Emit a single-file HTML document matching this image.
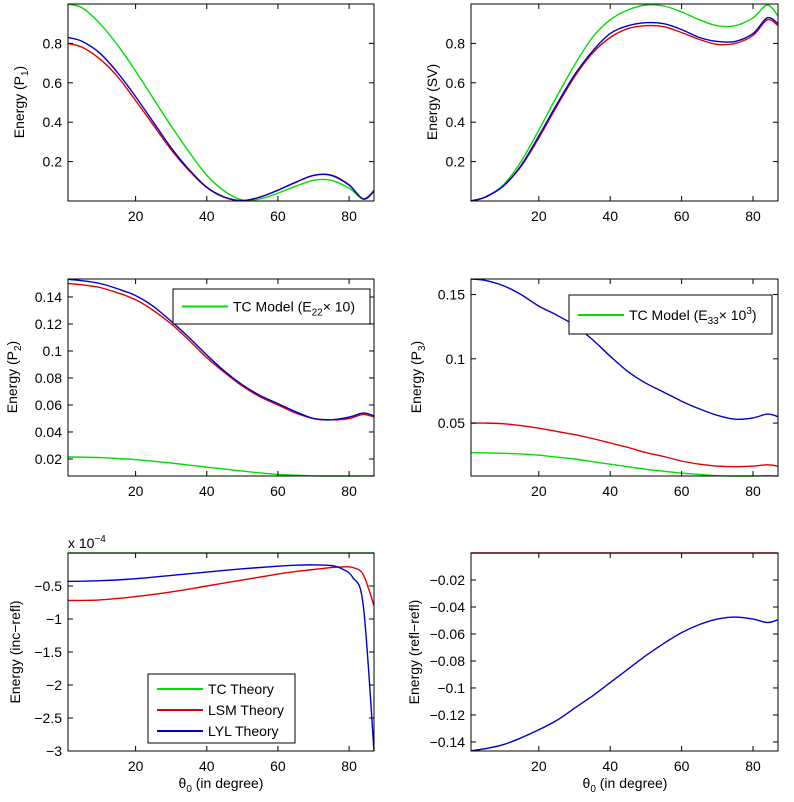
<!DOCTYPE html>
<html><head><meta charset="utf-8"><style>
body{margin:0;background:#fff;}
svg{display:block;font-family:"Liberation Sans",Arial,sans-serif;}
</style></head><body>
<svg id="fig" width="794" height="802" viewBox="0 0 794 802"></svg>
<script>
// ---- data ----
const X = [1,5,10,15,20,25,30,35,40,45,50,55,60,65,70,75,80,84,87];
const p1Green = [1.0,0.98,0.90,0.79,0.66,0.52,0.38,0.25,0.13,0.05,0.005,0.01,0.04,0.075,0.105,0.105,0.065,0.01,0.055];
const p1Blue  = [0.83,0.81,0.75,0.65,0.53,0.40,0.27,0.16,0.07,0.02,0.002,0.02,0.055,0.095,0.13,0.13,0.08,0.01,0.05];
const p1Red   = [0.80,0.78,0.72,0.63,0.51,0.385,0.26,0.155,0.068,0.018,0.002,0.02,0.055,0.095,0.13,0.132,0.082,0.01,0.05];
const svGreen = [0,0.02,0.08,0.2,0.36,0.53,0.69,0.83,0.92,0.97,0.995,0.99,0.96,0.92,0.89,0.89,0.93,0.995,0.94];
const svBlue  = [0,0.02,0.075,0.18,0.33,0.49,0.64,0.76,0.85,0.89,0.905,0.90,0.87,0.83,0.81,0.81,0.85,0.93,0.90];
const svRed   = [0,0.02,0.075,0.175,0.32,0.48,0.63,0.75,0.83,0.875,0.89,0.885,0.855,0.82,0.795,0.80,0.84,0.92,0.89];
const p2Blue  = [0.153,0.152,0.150,0.146,0.141,0.133,0.122,0.110,0.097,0.085,0.075,0.067,0.061,0.055,0.050,0.049,0.051,0.054,0.052];
const p2Red   = [0.150,0.149,0.147,0.143,0.138,0.130,0.120,0.108,0.095,0.084,0.074,0.066,0.060,0.054,0.050,0.049,0.050,0.053,0.051];
const p2Green = [0.0215,0.0213,0.021,0.0203,0.0195,0.0183,0.017,0.0155,0.014,0.0125,0.011,0.0097,0.0085,0.008,0.0075,0.0074,0.0074,0.0075,0.0074];
const p3Blue  = [0.162,0.161,0.157,0.150,0.141,0.134,0.126,0.115,0.102,0.090,0.081,0.074,0.067,0.061,0.056,0.053,0.054,0.057,0.055];
const p3Red   = [0.050,0.050,0.0495,0.048,0.046,0.0435,0.041,0.038,0.0345,0.031,0.027,0.024,0.0205,0.018,0.0165,0.016,0.0165,0.0175,0.0165];
const p3Green = [0.027,0.0268,0.0265,0.026,0.025,0.0235,0.022,0.020,0.018,0.016,0.014,0.0125,0.011,0.010,0.009,0.0088,0.0088,0.009,0.0088];
const XI = [1,10,20,30,40,50,60,65,70,75,78,81,84,87];
const incBlue  = [-0.43,-0.42,-0.39,-0.34,-0.29,-0.24,-0.20,-0.185,-0.18,-0.19,-0.24,-0.37,-0.8,-3.0];
const incRed   = [-0.72,-0.71,-0.66,-0.59,-0.50,-0.41,-0.32,-0.28,-0.25,-0.22,-0.21,-0.22,-0.33,-0.8];
const incGreen = [0,0,0,0,0,0,0,0,0,0,0,0,0,0];
const reflBlue = [-0.1465,-0.145,-0.142,-0.137,-0.131,-0.124,-0.115,-0.106,-0.096,-0.086,-0.076,-0.067,-0.059,-0.053,-0.049,-0.0475,-0.049,-0.0515,-0.0495];
const reflRed  = [0,0,0,0,0,0,0,0,0,0,0,0,0,0,0,0,0,0,0];
const xTicks = [20,40,60,80];
const yT1 = [0.2,0.4,0.6,0.8];
const yT2 = [0.02,0.04,0.06,0.08,0.1,0.12,0.14];
const yT2L = ["0.02","0.04","0.06","0.08","0.1","0.12","0.14"];
const yT3 = [0.05,0.1,0.15];
const yT3L = ["0.05","0.1","0.15"];
const yT5 = [-3,-2.5,-2,-1.5,-1,-0.5];
const yT5L = ["\u22123","\u22122.5","\u22122","\u22121.5","\u22121","\u22120.5"];
const yT6 = [-0.14,-0.12,-0.1,-0.08,-0.06,-0.04,-0.02];
const yT6L = ["\u22120.14","\u22120.12","\u22120.1","\u22120.08","\u22120.06","\u22120.04","\u22120.02"];

const NS="http://www.w3.org/2000/svg";
const fig=document.getElementById('fig');
function mk(tag,attrs,parent){const e=document.createElementNS(NS,tag);for(const k in attrs)e.setAttribute(k,attrs[k]);(parent||fig).appendChild(e);return e;}
const G="#00dd00",R="#e00000",B="#0000cc";
const FS=14;

function smoothPath(p){
  let d='M'+p[0][0].toFixed(1)+','+p[0][1].toFixed(1);
  for(let i=0;i<p.length-1;i++){
    const p0=p[Math.max(0,i-1)],p1=p[i],p2=p[i+1],p3=p[Math.min(p.length-1,i+2)];
    const k=1/6;
    const c1=[p1[0]+(p2[0]-p0[0])*k,p1[1]+(p2[1]-p0[1])*k];
    const c2=[p2[0]-(p3[0]-p1[0])*k,p2[1]-(p3[1]-p1[1])*k];
    d+=' C'+c1[0].toFixed(1)+','+c1[1].toFixed(1)+' '+c2[0].toFixed(1)+','+c2[1].toFixed(1)+' '+p2[0].toFixed(1)+','+p2[1].toFixed(1);
  }
  return d;
}

function panel(name,L,T,W,H,xmin,xmax,ymin,ymax,yt,ytl,series){
  const g=mk('g',{});
  
  
  const sx=v=>L+(v-xmin)/(xmax-xmin)*W;
  const sy=v=>T+H-(v-ymin)/(ymax-ymin)*H;
  const cid='c'+name;
  const cp=mk('clipPath',{id:cid},g);mk('rect',{x:L,y:T-1,width:W,height:H+2},cp);
  series.forEach(s=>{
    const pts=s.xs.map((x,i)=>[sx(x),sy(s.ys[i])]);
    const pl=mk('path',{d:smoothPath(pts),fill:'none',stroke:s.c,'stroke-width':1.4,'clip-path':'url(#'+cid+')','stroke-linejoin':'round'},g);
    
    
  });
  const box=mk('rect',{x:L,y:T,width:W,height:H,fill:'none',stroke:'#000','stroke-width':1},g);
  
  
  xTicks.forEach(t=>{
    const x=sx(t);
    mk('line',{x1:x,y1:T+H,x2:x,y2:T+H-5,stroke:'#000'},g);
    mk('line',{x1:x,y1:T,x2:x,y2:T+5,stroke:'#000'},g);
    const tx=mk('text',{x:x,y:T+H+20,'font-size':FS,'text-anchor':'middle'},g);
    tx.textContent=t;
    
    
  });
  yt.forEach((t,i)=>{
    const y=sy(t);
    mk('line',{x1:L,y1:y,x2:L+5,y2:y,stroke:'#000'},g);
    mk('line',{x1:L+W,y1:y,x2:L+W-5,y2:y,stroke:'#000'},g);
    const tx=mk('text',{x:L-6,y:y+5,'font-size':FS,'text-anchor':'end'},g);
    tx.textContent=ytl[i];
    
    
  });
  return g;
}
function ylabel(x,y,html,name){
  const t=mk('text',{x:0,y:0,'font-size':FS,'text-anchor':'middle',transform:'translate('+x+','+y+') rotate(-90)'});
  t.innerHTML=html;
  
  
}
function xlabel(x,y){
  const t=mk('text',{x:x,y:y,'font-size':FS,'text-anchor':'middle'});
  t.innerHTML='\u03B8<tspan dy="4" font-size="10">0</tspan><tspan dy="-4"> (in degree)</tspan>';
  
  
}
function legend(x,y,w,h,items,name){
  const g=mk('g',{});
  
  
  mk('rect',{x:x,y:y,width:w,height:h,fill:'#fff',stroke:'#000'},g);
  items.forEach(it=>{
    mk('line',{x1:x+9,y1:it.y,x2:x+55,y2:it.y,stroke:it.c,'stroke-width':2},g);
    const t=mk('text',{x:x+60,y:it.y+5,'font-size':FS},g);
    t.innerHTML=it.t;
    
    
  });
}
const LL=68,LW=306,RL=471,RW=307,H=197;
panel('plot-p1',LL,4,LW,H,1,87,0,1,yT1,["0.2","0.4","0.6","0.8"],[
  {xs:X,ys:p1Green,c:G,n:'tc-series'},{xs:X,ys:p1Red,c:R,n:'lsm-series'},{xs:X,ys:p1Blue,c:B,n:'lyl-series'}]);
panel('plot-sv',RL,4,RW,H,1,87,0,1,yT1,["0.2","0.4","0.6","0.8"],[
  {xs:X,ys:svGreen,c:G,n:'tc-series'},{xs:X,ys:svRed,c:R,n:'lsm-series'},{xs:X,ys:svBlue,c:B,n:'lyl-series'}]);
panel('plot-p2',LL,279,LW,H,1,87,0.0074,0.1533,yT2,yT2L,[
  {xs:X,ys:p2Green,c:G,n:'tc-series'},{xs:X,ys:p2Red,c:R,n:'lsm-series'},{xs:X,ys:p2Blue,c:B,n:'lyl-series'}]);
panel('plot-p3',RL,279,RW,H,1,87,0.0088,0.1621,yT3,yT3L,[
  {xs:X,ys:p3Green,c:G,n:'tc-series'},{xs:X,ys:p3Red,c:R,n:'lsm-series'},{xs:X,ys:p3Blue,c:B,n:'lyl-series'}]);
panel('plot-inc-refl',LL,553,LW,198,1,87,-3,0,yT5,yT5L,[
  {xs:XI,ys:incGreen,c:G,n:'tc-series'},{xs:XI,ys:incRed,c:R,n:'lsm-series'},{xs:XI,ys:incBlue,c:B,n:'lyl-series'}]);
panel('plot-refl-refl',RL,553,RW,198,1,87,-0.1467,0,yT6,yT6L,[
  {xs:X,ys:reflRed,c:R,n:'lsm-series'},{xs:X,ys:reflBlue,c:B,n:'lyl-series'}]);

ylabel(24,102,'Energy (P<tspan dy="4" font-size="10">1</tspan><tspan dy="-4">)</tspan>','y-axis-title-p1');
ylabel(437,102,'Energy (SV)','y-axis-title-sv');
ylabel(17,377,'Energy (P<tspan dy="4" font-size="10">2</tspan><tspan dy="-4">)</tspan>','y-axis-title-p2');
ylabel(421,377,'Energy (P<tspan dy="4" font-size="10">3</tspan><tspan dy="-4">)</tspan>','y-axis-title-p3');
ylabel(20,652,'Energy (inc\u2212refl)','y-axis-title-inc-refl');
ylabel(419,652,'Energy (refl\u2212refl)','y-axis-title-refl-refl');
xlabel(221,788);xlabel(625,788);
const ex=mk('text',{x:68,y:548,'font-size':FS});
ex.innerHTML='x 10<tspan dy="-6" font-size="10">\u22124</tspan>';



legend(173,289,197,35,[{y:306.5,c:G,t:'TC Model (E<tspan dy="4" font-size="10">22</tspan><tspan dy="-4">\u00D7 10)</tspan>'}],'legend-p2');
legend(569,295,203,39,[{y:315,c:G,t:'TC Model (E<tspan dy="4" font-size="10">33</tspan><tspan dy="-4">\u00D7 10</tspan><tspan dy="-6" font-size="10">3</tspan><tspan dy="6">)</tspan>'}],'legend-p3');
legend(148,674,147,69,[{y:689,c:G,t:'TC Theory'},{y:710,c:R,t:'LSM Theory'},{y:731,c:B,t:'LYL Theory'}],'legend-theories');
</script>
</body></html>
